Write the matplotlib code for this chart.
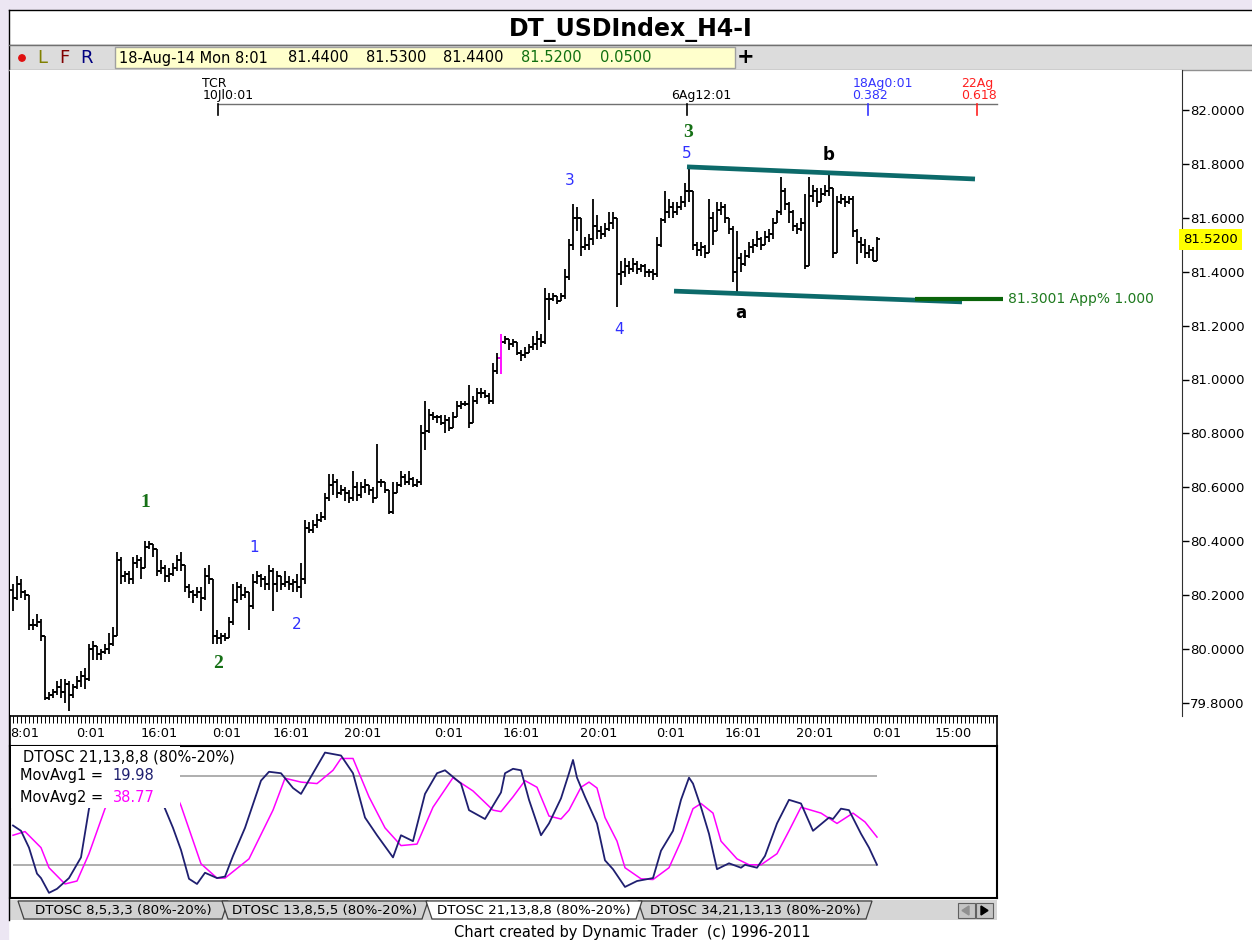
import numpy as np
import matplotlib
matplotlib.use("Agg")
import matplotlib.pyplot as plt
from matplotlib.collections import LineCollection
from matplotlib.patches import Rectangle, Polygon, Circle
import matplotlib.transforms as mtransforms

plt.rcParams['font.family'] = ['DejaVu Sans']

W, H = 1252, 940

# ---- price bars (H4), open of bar 0 then closes / highs / lows ----
first_open = 80.22
close = [
    80.19, 80.24, 80.21, 80.20, 80.09, 80.09, 80.10, 80.05, 79.82, 79.83,
    79.84, 79.86, 79.84, 79.87, 79.83, 79.86, 79.88, 79.90, 79.89, 80.00,
    80.01, 79.98, 79.99, 80.00, 80.02, 80.05, 80.33, 80.27, 80.28, 80.26,
    80.32, 80.33, 80.30, 80.38, 80.39, 80.37, 80.29, 80.30, 80.27, 80.28,
    80.30, 80.33, 80.31, 80.23, 80.21, 80.20, 80.21, 80.19, 80.27, 80.26,
    80.05, 80.04, 80.05, 80.04, 80.10, 80.18, 80.23, 80.20, 80.21, 80.16,
    80.25, 80.27, 80.26, 80.24, 80.29, 80.24, 80.27, 80.24, 80.25, 80.24,
    80.25, 80.23, 80.26, 80.45, 80.44, 80.46, 80.48, 80.49, 80.56, 80.61,
    80.62, 80.58, 80.59, 80.58, 80.56, 80.60, 80.57, 80.60, 80.61, 80.59,
    80.56, 80.62, 80.62, 80.59, 80.51, 80.58, 80.61, 80.64, 80.62, 80.63,
    80.61, 80.62, 80.80, 80.81, 80.87, 80.86, 80.86, 80.84, 80.85, 80.82,
    80.86, 80.90, 80.91, 80.91, 80.84, 80.92, 80.95, 80.95, 80.94, 80.92,
    81.03, 81.08, 81.14, 81.15, 81.13, 81.14, 81.10, 81.09, 81.10, 81.12,
    81.13, 81.15, 81.14, 81.30, 81.30, 81.31, 81.29, 81.31, 81.38, 81.50,
    81.60, 81.60, 81.49, 81.50, 81.52, 81.57, 81.55, 81.54, 81.56, 81.58,
    81.60, 81.39, 81.40, 81.42, 81.41, 81.43, 81.41, 81.42, 81.40, 81.40,
    81.39, 81.50, 81.59, 81.62, 81.64, 81.62, 81.64, 81.66, 81.70, 81.70,
    81.50, 81.48, 81.49, 81.47, 81.60, 81.55, 81.63, 81.64, 81.60, 81.56,
    81.40, 81.45, 81.43, 81.46, 81.49, 81.50, 81.52, 81.50, 81.53, 81.54,
    81.58, 81.62, 81.70, 81.65, 81.62, 81.57, 81.56, 81.58, 81.42, 81.68,
    81.70, 81.66, 81.69, 81.70, 81.71, 81.47, 81.66, 81.67, 81.66, 81.67,
    81.55, 81.51, 81.50, 81.47, 81.48, 81.44, 81.52,
]
high = [
    80.24, 80.27, 80.26, 80.22, 80.20, 80.11, 80.13, 80.11, 80.05, 79.84,
    79.85, 79.88, 79.89, 79.89, 79.88, 79.87, 79.90, 79.92, 79.93, 80.02,
    80.03, 80.01, 80.00, 80.02, 80.06, 80.08, 80.36, 80.34, 80.29, 80.29,
    80.34, 80.35, 80.34, 80.40, 80.40, 80.39, 80.37, 80.33, 80.31, 80.30,
    80.32, 80.35, 80.36, 80.31, 80.24, 80.22, 80.23, 80.23, 80.30, 80.31,
    80.26, 80.07, 80.06, 80.06, 80.12, 80.24, 80.25, 80.24, 80.23, 80.21,
    80.28, 80.29, 80.28, 80.27, 80.31, 80.30, 80.29, 80.27, 80.29, 80.27,
    80.26, 80.28, 80.32, 80.48, 80.47, 80.48, 80.50, 80.51, 80.58, 80.65,
    80.65, 80.63, 80.61, 80.60, 80.59, 80.66, 80.62, 80.62, 80.63, 80.61,
    80.60, 80.76, 80.63, 80.62, 80.59, 80.62, 80.62, 80.66, 80.65, 80.66,
    80.64, 80.63, 80.83, 80.92, 80.89, 80.88, 80.87, 80.87, 80.87, 80.86,
    80.88, 80.92, 80.92, 80.92, 80.98, 80.94, 80.97, 80.97, 80.96, 80.95,
    81.06, 81.10, 81.17, 81.16, 81.15, 81.15, 81.14, 81.11, 81.12, 81.13,
    81.16, 81.18, 81.17, 81.34, 81.32, 81.32, 81.31, 81.32, 81.41, 81.52,
    81.65, 81.64, 81.60, 81.53, 81.54, 81.67, 81.61, 81.57, 81.58, 81.62,
    81.62, 81.60, 81.44, 81.45, 81.44, 81.45, 81.44, 81.43, 81.43, 81.41,
    81.41, 81.53, 81.60, 81.70, 81.67, 81.66, 81.66, 81.68, 81.73, 81.79,
    81.70, 81.51, 81.51, 81.50, 81.67, 81.62, 81.66, 81.66, 81.65, 81.60,
    81.57, 81.55, 81.47, 81.48, 81.51, 81.52, 81.55, 81.53, 81.55, 81.56,
    81.60, 81.63, 81.75, 81.71, 81.66, 81.63, 81.58, 81.60, 81.69, 81.75,
    81.72, 81.71, 81.71, 81.72, 81.77, 81.70, 81.68, 81.69, 81.68, 81.68,
    81.68, 81.56, 81.53, 81.52, 81.50, 81.49, 81.53,
]
low = [
    80.14, 80.18, 80.19, 80.18, 80.07, 80.07, 80.08, 80.03, 79.81, 79.81,
    79.82, 79.83, 79.82, 79.80, 79.77, 79.82, 79.85, 79.86, 79.85, 79.88,
    79.96, 79.96, 79.96, 79.98, 79.98, 80.01, 80.05, 80.24, 80.25, 80.24,
    80.24, 80.30, 80.26, 80.30, 80.37, 80.34, 80.27, 80.28, 80.25, 80.25,
    80.27, 80.29, 80.29, 80.21, 80.19, 80.17, 80.19, 80.14, 80.18, 80.24,
    80.02, 80.02, 80.02, 80.03, 80.04, 80.09, 80.17, 80.18, 80.19, 80.07,
    80.15, 80.24, 80.23, 80.22, 80.22, 80.14, 80.21, 80.22, 80.23, 80.22,
    80.21, 80.21, 80.19, 80.24, 80.43, 80.43, 80.45, 80.47, 80.48, 80.55,
    80.57, 80.56, 80.57, 80.55, 80.54, 80.55, 80.55, 80.56, 80.58, 80.57,
    80.54, 80.58, 80.60, 80.58, 80.50, 80.50, 80.58, 80.60, 80.61, 80.61,
    80.60, 80.60, 80.61, 80.74, 80.80, 80.85, 80.84, 80.83, 80.80, 80.81,
    80.82, 80.86, 80.89, 80.90, 80.82, 80.84, 80.91, 80.93, 80.93, 80.91,
    80.91, 81.02, 81.02, 81.13, 81.11, 81.12, 81.09, 81.07, 81.08, 81.10,
    81.11, 81.11, 81.12, 81.13, 81.22, 81.29, 81.28, 81.29, 81.30, 81.37,
    81.48, 81.55, 81.46, 81.48, 81.48, 81.50, 81.52, 81.52, 81.53, 81.55,
    81.56, 81.27, 81.35, 81.38, 81.39, 81.40, 81.39, 81.40, 81.38, 81.38,
    81.37, 81.38, 81.49, 81.58, 81.60, 81.60, 81.61, 81.63, 81.64, 81.66,
    81.48, 81.46, 81.46, 81.45, 81.47, 81.50, 81.55, 81.61, 81.58, 81.54,
    81.36, 81.32, 81.40, 81.42, 81.45, 81.47, 81.49, 81.48, 81.50, 81.51,
    81.52, 81.58, 81.61, 81.63, 81.58, 81.55, 81.54, 81.55, 81.41, 81.42,
    81.66, 81.64, 81.66, 81.68, 81.68, 81.45, 81.47, 81.65, 81.64, 81.65,
    81.53, 81.43, 81.47, 81.45, 81.45, 81.44, 81.44,
]
highlight_bar = 122
last_price = 81.52

price_ticks = [79.8, 80.0, 80.2, 80.4, 80.6, 80.8, 81.0, 81.2, 81.4, 81.6, 81.8, 82.0]

# wave counts: text, bar, price, kind
wave_labels = [
    ('1', 33, 80.545, 'major'), ('2', 51.25, 79.948, 'major'), ('3', 168.75, 81.915, 'major'),
    ('1', 60.25, 80.378, 'minor'), ('2', 71, 80.09, 'minor'), ('3', 139.25, 81.737, 'minor'),
    ('4', 151.5, 81.184, 'minor'), ('5', 168.5, 81.84, 'minor'),
    ('a', 182, 81.247, 'abc'), ('b', 204, 81.833, 'abc'),
]

# channel lines (bar, price)
upper_line_bars = [168.5, 240.5]
upper_line_prices = [81.789, 81.744]
lower_line_bars = [165.25, 237.25]
lower_line_prices = [81.328, 81.288]
target_bars = [225.5, 247.5]
target_price = 81.3001

# time ruler along the top
ruler_bars = [51.25, 168.5, 213.75, 241.0]
ruler_top = ['TCR', '', '18Ag0:01', '22Ag']
ruler_bottom = ['10Jl0:01', '6Ag12:01', '0.382', '0.618']
ruler_colors = ['black', 'black', '#3333ff', '#ff2020']

# bottom time axis
time_labels = ['8:01', '0:01', '16:01', '0:01', '16:01', '20:01', '0:01',
               '16:01', '20:01', '0:01', '16:01', '20:01', '0:01', '15:00']
time_label_bars = [3, 19.5, 36.5, 53.5, 69.5, 87.5, 109, 127, 146.5, 164.5, 182.5, 200.5, 218.5, 235]

# DTOSC 21,13,8,8 lines (bar, value)
fast_bars = [0, 2, 4, 6, 7, 9, 11, 14, 17, 19, 24, 29, 34, 38, 40, 42, 44, 46, 48, 51,
             53, 55, 58, 62, 64, 67, 70, 72, 75, 78, 82, 85, 88, 91, 95, 97, 100, 103,
             106, 108, 112, 114, 118, 122, 123, 125, 127, 129, 132, 134, 137, 139, 140,
             141, 143, 146, 148, 150, 153, 156, 160, 162, 165, 167, 169, 170, 172, 174,
             176, 179, 182, 183, 186, 188, 191, 194, 197, 200, 204, 205, 207, 209, 212,
             214, 216]
fast_vals = [46.6, 43, 31.6, 14, 11, 1, 3.7, 11, 25, 58, 90, 98, 85, 58, 45, 30, 10.5, 7,
             14.6, 11, 12, 26, 45, 77, 83, 82, 72, 68, 82, 96, 94, 82, 52, 40, 25, 40, 36,
             68, 82, 84, 75, 57, 51, 69, 82, 85, 84, 64, 40, 48, 65, 82, 91, 79, 66, 48, 23,
             17, 5, 9, 11, 29.5, 43, 64, 79, 75, 59, 41, 17, 21, 18, 20, 18, 26, 48, 64,
             61.5, 43, 52, 51, 58, 57, 41, 31.6, 19.98]
slow_bars = [0, 3, 7, 9, 13, 16, 19, 23, 28, 33, 38, 42, 47, 51, 53, 59, 65, 68, 72, 76,
             80, 82, 85, 89, 93, 97, 101, 105, 110, 115, 120, 122, 125, 128, 131, 134, 137,
             139, 142, 144, 146, 148, 151, 153, 157, 160, 164, 167, 170, 172, 175, 177,
             181, 184, 187, 191, 194, 197, 202, 206, 210, 213, 216]
slow_vals = [40, 42.5, 31.6, 18, 7, 9, 27.5, 58, 85, 95, 85, 60, 20.7, 11, 11, 24, 57,
             78.6, 76, 75, 84, 92, 92, 66, 45, 33, 34, 59, 79, 70, 57, 56, 66, 77, 72.5, 53,
             51, 57, 72.5, 76, 72, 52, 36, 18, 10.5, 10, 18, 36, 58, 61.5, 55, 36, 24, 20,
             20, 27.5, 43, 59, 55, 48, 55, 49, 38.77]
osc_levels = [20, 80]

tab_names = ['DTOSC 8,5,3,3 (80%-20%)', 'DTOSC 13,8,5,5 (80%-20%)',
             'DTOSC 21,13,8,8 (80%-20%)', 'DTOSC 34,21,13,13 (80%-20%)']
active_tab = 2


def px_rect(x0, y0, x1, y1):
    return [x0 / W, 1 - y1 / H, (x1 - x0) / W, (y1 - y0) / H]


fig = plt.figure(figsize=(W / 100, H / 100), dpi=100, facecolor='white')

# ---------- window chrome (pixel coordinates) ----------
ov = fig.add_axes([0, 0, 1, 1], zorder=0)
ov.set_xlim(0, W)
ov.set_ylim(H, 0)
ov.axis('off')
lav = '#ece6f3'
ov.add_patch(Rectangle((0, 0), W, 9, color=lav))
ov.add_patch(Rectangle((0, 0), 8, H, color=lav))
ov.plot([8.5, W], [9.5, 9.5], color='black', lw=1)
ov.plot([8.5, 8.5], [9.5, 920], color='black', lw=1)
ov.text(631, 29, 'DT_USDIndex_H4-I', ha='center', va='center', fontsize=17,
        fontweight='bold')
ov.add_patch(Rectangle((9, 44), W, 26, facecolor='#dcdcdc', edgecolor='none'))
ov.plot([9, W], [44.5, 44.5], color='#707070', lw=1)
ov.plot([9, W], [69.5, 69.5], color='#909090', lw=1)
ov.add_patch(Circle((22, 58), 3.2, color='#e01010'))
for s, x, c in [('L', 42, '#808000'), ('F', 64, '#800000'), ('R', 87, '#000080')]:
    ov.text(x, 58, s, ha='center', va='center', fontsize=13, color=c)
ov.add_patch(Rectangle((115, 47), 620, 21, facecolor='#ffffcc', edgecolor='#a0a0a0', lw=1))
for s, x, c in [('18-Aug-14 Mon 8:01', 119, 'black'), ('81.4400', 288, 'black'),
                ('81.5300', 366, 'black'), ('81.4400', 443, 'black'),
                ('81.5200', 521, '#107010'), ('0.0500', 600, '#107010')]:
    ov.text(x, 58, s, ha='left', va='center', fontsize=10.5, color=c)
ov.text(746, 57, '+', ha='center', va='center', fontsize=15, fontweight='bold')

# tabs strip
ov.add_patch(Rectangle((9, 900), 988, 20, facecolor='#d6d6d6', edgecolor='none'))
tab_x = [(18, 228), (222, 428), (426, 642), (638, 872)]
order = [i for i in range(len(tab_names)) if i != active_tab] + [active_tab]
for i in order:
    x0, x1 = tab_x[i]
    fc = 'white' if i == active_tab else '#d0d0d0'
    ov.add_patch(Polygon([(x0, 901), (x1, 901), (x1 - 6, 919), (x0 + 6, 919)],
                         closed=True, facecolor=fc, edgecolor='#404040', lw=0.9))
    ov.text((x0 + x1) / 2, 910.5, tab_names[i], ha='center', va='center', fontsize=9.6)
for bx in [958, 976]:
    ov.add_patch(Rectangle((bx, 903), 17, 15, facecolor='#c4c4c4', edgecolor='#606060', lw=0.8))
ov.add_patch(Polygon([(962, 910.5), (969, 906), (969, 915)], color='#909090'))
ov.add_patch(Polygon([(988, 910.5), (981, 906), (981, 915)], color='black'))
ov.text(632, 932, 'Chart created by Dynamic Trader  (c) 1996-2011', ha='center',
        va='center', fontsize=10.5)

# ---------- price panel ----------
p_top = 82.0 + 40 / 269.5
p_bot = 82.0 - 606 / 269.5
ax = fig.add_axes(px_rect(10, 70, 1182, 716), zorder=2)
ax.set_facecolor('white')
ax.set_xlim(-0.75, 292.25)
ax.set_ylim(p_bot, p_top)

opens = [first_open] + close[:-1]
segs, cols = [], []
for i, (o, h, l, c) in enumerate(zip(opens, high, low, close)):
    hh, ll = max(h, o, c), min(l, o, c)
    segs += [[(i, ll), (i, hh)], [(i - 0.65, o), (i, o)], [(i, c), (i + 0.65, c)]]
    cols += ['#ff00ff' if i == highlight_bar else 'black'] * 3
ax.add_collection(LineCollection(segs, colors=cols, linewidths=1.3))

teal = '#0c6a6a'
ax.plot(upper_line_bars, upper_line_prices, color=teal, lw=3.4, solid_capstyle='butt')
ax.plot(lower_line_bars, lower_line_prices, color=teal, lw=3.4, solid_capstyle='butt')
ax.plot(target_bars, [target_price, target_price], color='#0a640a', lw=3.0,
        solid_capstyle='butt')
ax.text(target_bars[1] + 1.2, target_price, f'{target_price:.4f} App% 1.000',
        color='#1f7a1f', fontsize=10, ha='left', va='center')

for s, b, p, kind in wave_labels:
    if kind == 'major':
        ax.text(b, p, s, color='#167016', fontsize=14, fontweight='bold',
                family='Liberation Serif', ha='center', va='center')
    elif kind == 'minor':
        ax.text(b, p, s, color='#3030ff', fontsize=11, ha='center', va='center')
    else:
        ax.text(b, p, s, color='black', fontsize=12, fontweight='bold',
                ha='center', va='center')

# top time ruler
ruler_y = 82.0 + 6 / 269.5
ax.plot([ruler_bars[0], 246], [ruler_y, ruler_y], color='#707070', lw=1)
for b, t, bt, c in zip(ruler_bars, ruler_top, ruler_bottom, ruler_colors):
    ax.plot([b, b], [ruler_y, ruler_y - 0.04], color=c, lw=1.2)
    ax.text(b - 3.9, 82.052, bt, color=c, fontsize=9, ha='left', va='center')
    if t:
        ax.text(b - 3.9, 82.098, t, color=c, fontsize=9, ha='left', va='center')

ax.yaxis.tick_right()
ax.set_yticks(price_ticks)
ax.set_yticklabels([f'{v:.4f}' for v in price_ticks])
ax.tick_params(axis='y', length=5, width=1, pad=1, labelsize=9.5, direction='out',
               colors='black')
ax.set_xticks([])
for s in ['top', 'left', 'bottom']:
    ax.spines[s].set_visible(False)
ax.spines['right'].set_color('#303030')
ax.text(1.001, last_price, f'{last_price:.4f}', fontsize=9.5, ha='left', va='center',
        transform=mtransforms.blended_transform_factory(ax.transAxes, ax.transData),
        bbox=dict(boxstyle='square,pad=0.28', facecolor='#ffff00', edgecolor='none'))

# ---------- bottom time axis ----------
tx = fig.add_axes(px_rect(10, 716, 997, 746), zorder=2)
tx.set_xlim(-0.75, 246)
tx.set_ylim(0, 1)
tx.vlines(np.arange(0, 246), 0.78, 1.0, color='black', lw=0.7)
for lab, b in zip(time_labels, time_label_bars):
    tx.text(b, 0.42, lab, ha='center', va='center', fontsize=9.3)
tx.set_xticks([])
tx.set_yticks([])
for s in tx.spines.values():
    s.set_color('black')
    s.set_linewidth(1.2)

# ---------- oscillator panel ----------
ox = fig.add_axes(px_rect(10, 746, 997, 898), zorder=2)
ox.set_xlim(-0.75, 246)
ox.set_ylim(-2.5, 100.45)
ox.hlines(osc_levels, 0, len(close) - 1, color='#a8a8a8', lw=1.3)
ox.plot(slow_bars, slow_vals, color='#ff00ff', lw=1.1)
ox.plot(fast_bars, fast_vals, color='#1f1f70', lw=1.3)
ox.add_patch(Rectangle((0.001, 0.592), 0.171, 0.41, transform=ox.transAxes,
                       facecolor='white', edgecolor='none', zorder=3))
ox.text(0.013, 0.93, 'DTOSC 21,13,8,8 (80%-20%)', transform=ox.transAxes,
        fontsize=10.5, ha='left', va='center', zorder=4)
ox.text(0.010, 0.805, 'MovAvg1 =', transform=ox.transAxes, fontsize=10.5,
        ha='left', va='center', zorder=4)
ox.text(0.104, 0.805, f'{fast_vals[-1]:.2f}', transform=ox.transAxes, fontsize=10.5,
        ha='left', va='center', color='#1f1f70', zorder=4)
ox.text(0.010, 0.66, 'MovAvg2 =', transform=ox.transAxes, fontsize=10.5,
        ha='left', va='center', zorder=4)
ox.text(0.104, 0.66, f'{slow_vals[-1]:.2f}', transform=ox.transAxes, fontsize=10.5,
        ha='left', va='center', color='#ff00ff', zorder=4)
ox.set_xticks([])
ox.set_yticks([])
for s in ox.spines.values():
    s.set_color('black')
    s.set_linewidth(1.5)

fig.savefig('out.png', dpi=100, facecolor='white')
